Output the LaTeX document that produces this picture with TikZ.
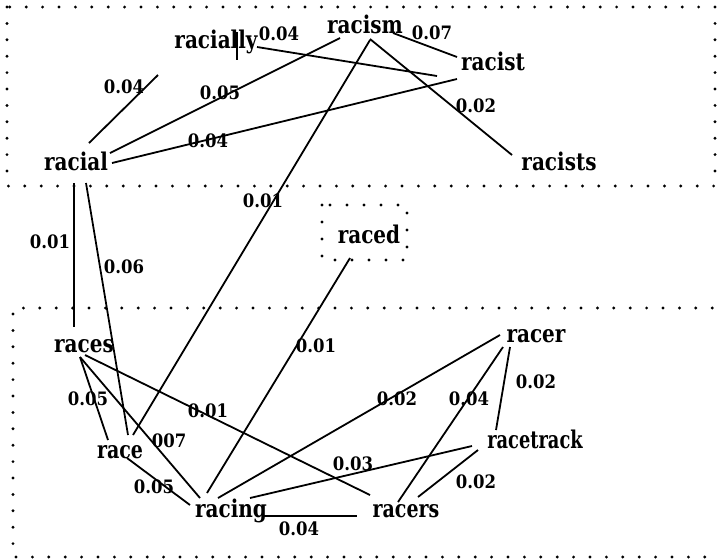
\documentclass[tikz,border=0pt]{standalone}
\usepackage{fontspec}
\setmainfont{DejaVu Serif}
\usetikzlibrary{calc}
\newcommand\wtxt[2][1]{\scalebox{#1}[1.22]{#2}}
\newcommand\ltxt[1]{\scalebox{1}[1.12]{#1}}
\tikzset{
 word/.style={font=\bfseries\fontsize{20}{24}\selectfont, inner sep=0pt, anchor=base},
 wlab/.style={font=\bfseries\fontsize{16.5}{20}\selectfont, inner sep=0pt, anchor=base},
 edge/.style={line width=1.8pt},
 dotbox/.style={line width=3.2pt, line cap=round, dash pattern=on 0pt off 16.4pt},
 dotsmall/.style={line width=3.2pt, line cap=round, dash pattern=on 0pt off 17pt},
}
\begin{document}
\begin{tikzpicture}[x=1pt,y=-1pt]
\useasboundingbox (0,0) rectangle (719,558);
% dotted boxes
\draw[dotbox] (7,7) rectangle (715,186);
\draw[dotsmall] (322,205) rectangle (407,260);
\draw[dotbox] (745,308) -- (13,308) -- (13,557) -- (745,557);
% words
\node[word] (racial) at (76,170) {\wtxt{racial}};
\node[word] (racially) at (216,48) {\wtxt{racially}};
\node[word] (racism) at (365,33) {\wtxt{racism}};
\node[word] (racist) at (493,70) {\wtxt{racist}};
\node[word] (racists) at (559,170) {\wtxt{racists}};
\node[word] (raced) at (369,243) {\wtxt{raced}};
\node[word] (races) at (84,352) {\wtxt{races}};
\node[word] (racer) at (536,342) {\wtxt{racer}};
\node[word] (race) at (120,458) {\wtxt[0.95]{race}};
\node[word] (racetrack) at (535,448) {\wtxt[0.89]{racetrack}};
\node[word] (racing) at (231,517) {\wtxt{racing}};
\node[word] (racers) at (406,517) {\wtxt[0.95]{racers}};
% edges
\draw[edge] ($(racial.base)+(13,-27)$) -- ($(racially.base)+(-58,27)$);
\draw[edge] ($(racially.base)+(21,-16)$) -- ($(racially.base)+(21,12)$);
\draw[edge] ($(racially.base)+(41,-1)$) -- ($(racist.base)+(-56,6)$);
\draw[edge] ($(racial.base)+(34,-17)$) -- ($(racism.base)+(-25,5)$);
\draw[edge] ($(racial.base)+(36,-7)$) -- ($(racist.base)+(-36,9)$);
\draw[edge] ($(racism.base)+(28,0)$) -- ($(racist.base)+(-36,-13)$);
\draw[edge] ($(racism.base)+(5,6)$) -- ($(racists.base)+(-47,-15)$);
\draw[edge] ($(racism.base)+(5,7)$) -- ($(race.base)+(13,-23)$);
\draw[edge] ($(racial.base)+(-2,13)$) -- ($(races.base)+(-10,-25)$);
\draw[edge] ($(racial.base)+(10,13)$) -- ($(race.base)+(8,-23)$);
\draw[edge] ($(raced.base)+(-19,15)$) -- ($(racing.base)+(-24,-24)$);
\draw[edge] ($(races.base)+(-4,5)$) -- ($(race.base)+(-12,-18)$);
\draw[edge] ($(races.base)+(-4,5)$) -- ($(racing.base)+(-31,-19)$);
\draw[edge] ($(races.base)+(1,3)$) -- ($(racers.base)+(-36,-22)$);
\draw[edge] ($(race.base)+(7,0)$) -- ($(racing.base)+(-41,-12)$);
\draw[edge] ($(racing.base)+(-13,-19)$) -- ($(racer.base)+(-36,-7)$);
\draw[edge] ($(racing.base)+(19,-19)$) -- ($(racetrack.base)+(-63,-2)$);
\draw[edge] ($(racing.base)+(32,-1)$) -- ($(racers.base)+(-49,-1)$);
\draw[edge] ($(racer.base)+(-33,5)$) -- ($(racers.base)+(-8,-15)$);
\draw[edge] ($(racer.base)+(-26,5)$) -- ($(racetrack.base)+(-39,-18)$);
\draw[edge] ($(racetrack.base)+(-57,2)$) -- ($(racers.base)+(12,-20)$);
% labels
\node[wlab] (l1) at (124,93) {\ltxt{0.04}};
\node[wlab] (l2) at (220,99) {\ltxt{0.05}};
\node[wlab] (l3) at (208,147) {\ltxt{0.04}};
\node[wlab] (l4) at (279,40) {\ltxt{0.04}};
\node[wlab] (l5) at (432,39) {\ltxt{0.07}};
\node[wlab] (l6) at (476,112) {\ltxt{0.02}};
\node[wlab] (l7) at (263,207) {\ltxt{0.01}};
\node[wlab] (l8) at (50,248) {\ltxt{0.01}};
\node[wlab] (l9) at (124,273) {\ltxt{0.06}};
\node[wlab] (l10) at (316,352) {\ltxt{0.01}};
\node[wlab] (l11) at (88,405) {\ltxt{0.05}};
\node[wlab] (l12) at (208,417) {\ltxt{0.01}};
\node[wlab] (l13) at (169,447) {\ltxt{007}};
\node[wlab] (l14) at (154,493) {\ltxt{0.05}};
\node[wlab] (l15) at (299,535) {\ltxt{0.04}};
\node[wlab] (l16) at (353,470) {\ltxt{0.03}};
\node[wlab] (l17) at (397,405) {\ltxt{0.02}};
\node[wlab] (l18) at (469,405) {\ltxt{0.04}};
\node[wlab] (l19) at (536,388) {\ltxt{0.02}};
\node[wlab] (l20) at (476,488) {\ltxt{0.02}};
\end{tikzpicture}
\end{document}
